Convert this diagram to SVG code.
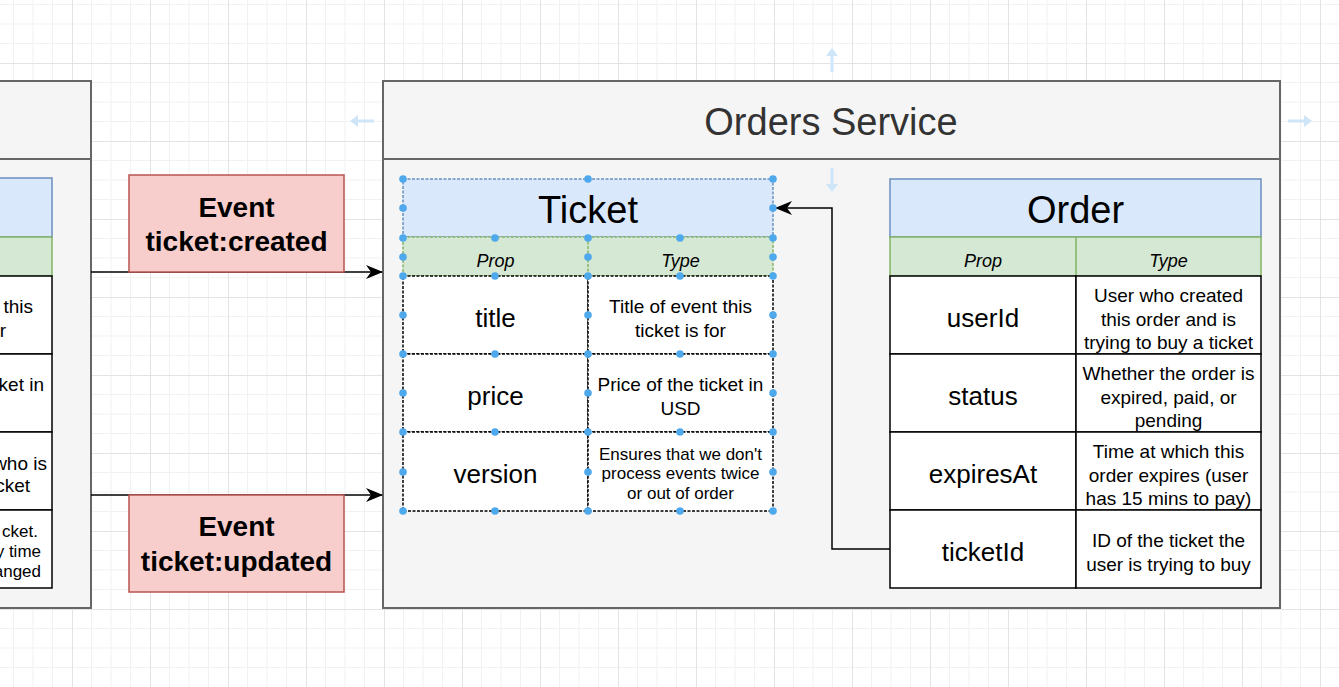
<svg xmlns="http://www.w3.org/2000/svg" width="1339" height="687" viewBox="0 0 1339 687">
<defs>
<style>
text{font-family:"Liberation Sans",Arial,Helvetica,sans-serif;fill:#000}
.svc{fill:#f5f5f5;stroke:#666;stroke-width:2}
.hdr{fill:#dae8fc;stroke:#6c8ebf;stroke-width:1.5}
.sub{fill:#d5e8d4;stroke:#82b366;stroke-width:1.5}
.row{fill:#fff;stroke:#000;stroke-width:1.5}
.sel{stroke-dasharray:3 1.5}
.evt{fill:#f8cecc;stroke:#b85450;stroke-width:1.5}
.stitle{font-size:38px;text-anchor:middle;fill:#333}
.ttitle{font-size:38px;text-anchor:middle}
.ph{font-size:18px;font-style:italic;text-anchor:middle}
.prop{font-size:26px;text-anchor:middle}
.desc{font-size:19px;text-anchor:middle}
.sm{font-size:17px;text-anchor:middle}
.frag{font-size:19px;text-anchor:end}
.frag2{font-size:17px;text-anchor:end}
.evtext{font-size:28px;font-weight:bold;text-anchor:middle}
.conn{fill:none;stroke:#000;stroke-width:1.5}
.hd{fill:#4ea8ec}
.hint{fill:none;stroke:#cfe5f8;stroke-width:3}
.hinth{fill:#cfe5f8}
</style>
<pattern id="grid" width="78" height="78" patternUnits="userSpaceOnUse" x="72" y="63">
<path d="M0 19.5H78M0 39H78M0 58.5H78M19.5 0V78M39 0V78M58.5 0V78" stroke="#f1f1f1" stroke-width="1" fill="none"/>
<path d="M0 0.5H78M0.5 0V78" stroke="#e3e3e3" stroke-width="1" fill="none"/>
</pattern>
<marker id="arr" viewBox="0 0 17 14" markerWidth="17" markerHeight="14" refX="16" refY="7" orient="auto" markerUnits="userSpaceOnUse">
<path d="M0,0 L17,7 L0,14 L5,7 z" fill="#000"/>
</marker>
</defs>
<rect width="1339" height="687" fill="#fff"/>
<rect width="1339" height="687" fill="url(#grid)"/>

<g id="tickets-service">
<rect class="svc" x="-10" y="81" width="101" height="527"/>
<line x1="-10" y1="159" x2="91" y2="159" stroke="#666" stroke-width="2"/>
<rect class="hdr" x="-20" y="178" width="72" height="59"/>
<rect class="sub" x="-20" y="237" width="72" height="39"/>
<rect class="row" x="-20" y="276" width="72" height="78"/>
<rect class="row" x="-20" y="354" width="72" height="78"/>
<rect class="row" x="-20" y="432" width="72" height="78"/>
<rect class="row" x="-20" y="510" width="72" height="78"/>
<text class="frag" x="33" y="313">this</text>
<text class="frag" x="6" y="337">r</text>
<text class="frag" x="44" y="391">ket in</text>
<text class="frag" x="47" y="470">who is</text>
<text class="frag" x="30" y="492">cket</text>
<text class="frag2" x="38" y="537">cket.</text>
<text class="frag2" x="41" y="557">y time</text>
<text class="frag2" x="41" y="577">anged</text>
</g>

<g id="orders-service">
<rect class="svc" x="383" y="81" width="897" height="527"/>
<line x1="383" y1="159" x2="1280" y2="159" stroke="#666" stroke-width="2"/>
<text class="stitle" x="831" y="135">Orders Service</text>
</g>

<g id="hints">
<path class="hint" d="M832 72V54"/><path class="hinth" d="M826 56L832 48L838 56z"/>
<path class="hint" d="M832 168V186"/><path class="hinth" d="M826 184L832 192L838 184z"/>
<path class="hint" d="M374 121H356"/><path class="hinth" d="M358 115L350 121L358 127z"/>
<path class="hint" d="M1288 121H1306"/><path class="hinth" d="M1304 115L1312 121L1304 127z"/>
</g>

<g id="connectors">
<path class="conn" d="M91 272H382" marker-end="url(#arr)"/>
<path class="conn" d="M91 495H382" marker-end="url(#arr)"/>
<path class="conn" d="M890 549H832V208H776" marker-end="url(#arr)"/>
</g>

<g id="event-created">
<rect class="evt" x="129" y="175" width="215" height="97"/>
<text class="evtext" x="236.5" y="217">Event</text>
<text class="evtext" x="236.5" y="251">ticket:created</text>
</g>

<g id="event-updated">
<rect class="evt" x="129" y="495" width="215" height="97"/>
<text class="evtext" x="236.5" y="536">Event</text>
<text class="evtext" x="236.5" y="571">ticket:updated</text>
</g>

<g id="ticket-table">
<rect class="hdr sel" x="403" y="179" width="370" height="58"/>
<rect class="sub sel" x="403" y="237" width="370" height="39"/>
<line x1="588" y1="237" x2="588" y2="276" stroke="#82b366" stroke-width="1.5" class="sel"/>
<rect class="row sel" x="403" y="276" width="185" height="78"/>
<rect class="row sel" x="588" y="276" width="185" height="78"/>
<rect class="row sel" x="403" y="354" width="185" height="78"/>
<rect class="row sel" x="588" y="354" width="185" height="78"/>
<rect class="row sel" x="403" y="432" width="185" height="79"/>
<rect class="row sel" x="588" y="432" width="185" height="79"/>
<text class="ttitle" x="588" y="223">Ticket</text>
<text class="ph" x="495.5" y="267">Prop</text>
<text class="ph" x="680.5" y="267">Type</text>
<text class="prop" x="495.5" y="327">title</text>
<text class="desc" x="680.5" y="313">Title of event this</text>
<text class="desc" x="680.5" y="337">ticket is for</text>
<text class="prop" x="495.5" y="405">price</text>
<text class="desc" x="680.5" y="391">Price of the ticket in</text>
<text class="desc" x="680.5" y="415">USD</text>
<text class="prop" x="495.5" y="483">version</text>
<text class="sm" x="680.5" y="460">Ensures that we don't</text>
<text class="sm" x="680.5" y="479">process events twice</text>
<text class="sm" x="680.5" y="499">or out of order</text>
<g class="hd">
<circle cx="403" cy="179" r="3.8"/><circle cx="588" cy="179" r="3.8"/><circle cx="773" cy="179" r="3.8"/>
<circle cx="403" cy="208" r="3.8"/><circle cx="773" cy="208" r="3.8"/>
<circle cx="403" cy="238" r="3.8"/><circle cx="495" cy="238" r="3.8"/><circle cx="588" cy="238" r="3.8"/><circle cx="680" cy="238" r="3.8"/><circle cx="773" cy="238" r="3.8"/>
<circle cx="403" cy="257" r="3.8"/><circle cx="588" cy="257" r="3.8"/><circle cx="773" cy="257" r="3.8"/>
<circle cx="403" cy="276" r="3.8"/><circle cx="495" cy="276" r="3.8"/><circle cx="588" cy="276" r="3.8"/><circle cx="680" cy="276" r="3.8"/><circle cx="773" cy="276" r="3.8"/>
<circle cx="403" cy="315" r="3.8"/><circle cx="588" cy="315" r="3.8"/><circle cx="773" cy="315" r="3.8"/>
<circle cx="403" cy="354" r="3.8"/><circle cx="495" cy="354" r="3.8"/><circle cx="588" cy="354" r="3.8"/><circle cx="680" cy="354" r="3.8"/><circle cx="773" cy="354" r="3.8"/>
<circle cx="403" cy="393" r="3.8"/><circle cx="588" cy="393" r="3.8"/><circle cx="773" cy="393" r="3.8"/>
<circle cx="403" cy="432" r="3.8"/><circle cx="495" cy="432" r="3.8"/><circle cx="588" cy="432" r="3.8"/><circle cx="680" cy="432" r="3.8"/><circle cx="773" cy="432" r="3.8"/>
<circle cx="403" cy="472" r="3.8"/><circle cx="588" cy="472" r="3.8"/><circle cx="773" cy="472" r="3.8"/>
<circle cx="403" cy="511" r="3.8"/><circle cx="495" cy="511" r="3.8"/><circle cx="588" cy="511" r="3.8"/><circle cx="680" cy="511" r="3.8"/><circle cx="773" cy="511" r="3.8"/>
</g>
</g>

<g id="order-table">
<rect class="hdr" x="890" y="179" width="371" height="58"/>
<rect class="sub" x="890" y="237" width="371" height="39"/>
<line x1="1076" y1="237" x2="1076" y2="276" stroke="#82b366" stroke-width="1.5"/>
<rect class="row" x="890" y="276" width="186" height="78"/>
<rect class="row" x="1076" y="276" width="185" height="78"/>
<rect class="row" x="890" y="354" width="186" height="78"/>
<rect class="row" x="1076" y="354" width="185" height="78"/>
<rect class="row" x="890" y="432" width="186" height="78"/>
<rect class="row" x="1076" y="432" width="185" height="78"/>
<rect class="row" x="890" y="510" width="186" height="78"/>
<rect class="row" x="1076" y="510" width="185" height="78"/>
<text class="ttitle" x="1075.5" y="223">Order</text>
<text class="ph" x="983" y="267">Prop</text>
<text class="ph" x="1168.5" y="267">Type</text>
<text class="prop" x="983" y="327">userId</text>
<text class="desc" x="1168.5" y="302">User who created</text>
<text class="desc" x="1168.5" y="326">this order and is</text>
<text class="desc" x="1168.5" y="349">trying to buy a ticket</text>
<text class="prop" x="983" y="405">status</text>
<text class="desc" x="1168.5" y="380">Whether the order is</text>
<text class="desc" x="1168.5" y="404">expired, paid, or</text>
<text class="desc" x="1168.5" y="427">pending</text>
<text class="prop" x="983" y="483">expiresAt</text>
<text class="desc" x="1168.5" y="458">Time at which this</text>
<text class="desc" x="1168.5" y="482">order expires (user</text>
<text class="desc" x="1168.5" y="505">has 15 mins to pay)</text>
<text class="prop" x="983" y="561">ticketId</text>
<text class="desc" x="1168.5" y="547">ID of the ticket the</text>
<text class="desc" x="1168.5" y="571">user is trying to buy</text>
</g>
</svg>
